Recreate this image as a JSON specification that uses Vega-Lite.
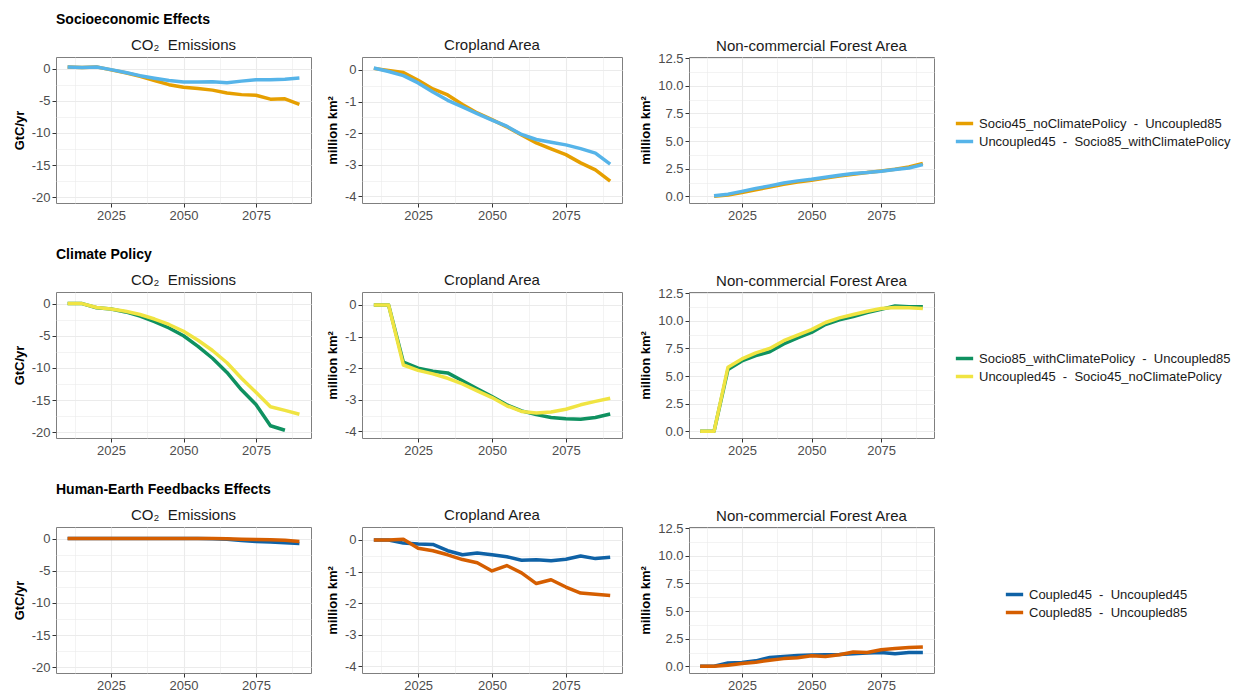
{
  "$schema": "https://vega.github.io/schema/vega-lite/v6.json",
  "background": "white",
  "padding": {"left": 12, "top": 12, "right": 5, "bottom": 0},
  "config": {
    "font": "Liberation Sans",
    "view": {"stroke": "#7f7f7f", "strokeWidth": 1},
    "axis": {"labelFont": "Liberation Sans", "labelFontSize": 13, "labelColor": "#4d4d4d", "titleFont": "Liberation Sans", "titleFontSize": 13, "titleFontWeight": "bold", "titleColor": "#000000", "domain": false, "tickColor": "#333333", "tickSize": 4, "gridColor": "#ebebeb", "labelPadding": 2, "titlePadding": 5},
    "title": {"font": "Liberation Sans", "fontSize": 15, "fontWeight": "normal", "color": "#1a1a1a", "offset": 4},
    "legend": {"labelFont": "Liberation Sans", "labelFontSize": 13, "labelColor": "#1a1a1a", "labelLimit": 400, "symbolType": "stroke", "symbolStrokeWidth": 3.5, "symbolSize": 300, "rowPadding": 0},
    "line": {"strokeWidth": 3.5, "strokeJoin": "round"}
  },
  "datasets": {
    "series": [
      {"s": "A", "name": "Socio45_noClimatePolicy\u00a0 - \u00a0Uncoupled85"},
      {"s": "B", "name": "Uncoupled45\u00a0 - \u00a0Socio85_withClimatePolicy"},
      {"s": "C", "name": "Socio85_withClimatePolicy\u00a0 - \u00a0Uncoupled85"},
      {"s": "D", "name": "Uncoupled45\u00a0 - \u00a0Socio45_noClimatePolicy"},
      {"s": "E", "name": "Coupled45\u00a0 - \u00a0Uncoupled45"},
      {"s": "F", "name": "Coupled85\u00a0 - \u00a0Uncoupled85"}
    ],
    "d": [
      {"p":"c","s":"A","y":2010,"v":0.26},{"p":"c","s":"A","y":2015,"v":0.16},{"p":"c","s":"A","y":2020,"v":0.26},{"p":"c","s":"A","y":2025,"v":-0.2},{"p":"c","s":"A","y":2030,"v":-0.65},{"p":"c","s":"A","y":2035,"v":-1.2},{"p":"c","s":"A","y":2040,"v":-1.85},{"p":"c","s":"A","y":2045,"v":-2.5},{"p":"c","s":"A","y":2050,"v":-2.9},{"p":"c","s":"A","y":2055,"v":-3.1},{"p":"c","s":"A","y":2060,"v":-3.35},{"p":"c","s":"A","y":2065,"v":-3.8},{"p":"c","s":"A","y":2070,"v":-4.05},{"p":"c","s":"A","y":2075,"v":-4.15},{"p":"c","s":"A","y":2080,"v":-4.75},{"p":"c","s":"A","y":2085,"v":-4.7},{"p":"c","s":"A","y":2090,"v":-5.55},
      {"p":"c","s":"B","y":2010,"v":0.26},{"p":"c","s":"B","y":2015,"v":0.16},{"p":"c","s":"B","y":2020,"v":0.26},{"p":"c","s":"B","y":2025,"v":-0.16},{"p":"c","s":"B","y":2030,"v":-0.6},{"p":"c","s":"B","y":2035,"v":-1.1},{"p":"c","s":"B","y":2040,"v":-1.5},{"p":"c","s":"B","y":2045,"v":-1.85},{"p":"c","s":"B","y":2050,"v":-2.1},{"p":"c","s":"B","y":2055,"v":-2.1},{"p":"c","s":"B","y":2060,"v":-2.05},{"p":"c","s":"B","y":2065,"v":-2.2},{"p":"c","s":"B","y":2070,"v":-1.95},{"p":"c","s":"B","y":2075,"v":-1.75},{"p":"c","s":"B","y":2080,"v":-1.75},{"p":"c","s":"B","y":2085,"v":-1.65},{"p":"c","s":"B","y":2090,"v":-1.45},
      {"p":"k","s":"A","y":2010,"v":0.05},{"p":"k","s":"A","y":2015,"v":-0.02},{"p":"k","s":"A","y":2020,"v":-0.08},{"p":"k","s":"A","y":2025,"v":-0.33},{"p":"k","s":"A","y":2030,"v":-0.6},{"p":"k","s":"A","y":2035,"v":-0.79},{"p":"k","s":"A","y":2040,"v":-1.09},{"p":"k","s":"A","y":2045,"v":-1.36},{"p":"k","s":"A","y":2050,"v":-1.57},{"p":"k","s":"A","y":2055,"v":-1.8},{"p":"k","s":"A","y":2060,"v":-2.06},{"p":"k","s":"A","y":2065,"v":-2.31},{"p":"k","s":"A","y":2070,"v":-2.5},{"p":"k","s":"A","y":2075,"v":-2.68},{"p":"k","s":"A","y":2080,"v":-2.94},{"p":"k","s":"A","y":2085,"v":-3.16},{"p":"k","s":"A","y":2090,"v":-3.52},
      {"p":"k","s":"B","y":2010,"v":0.06},{"p":"k","s":"B","y":2015,"v":-0.05},{"p":"k","s":"B","y":2020,"v":-0.18},{"p":"k","s":"B","y":2025,"v":-0.41},{"p":"k","s":"B","y":2030,"v":-0.7},{"p":"k","s":"B","y":2035,"v":-0.96},{"p":"k","s":"B","y":2040,"v":-1.17},{"p":"k","s":"B","y":2045,"v":-1.38},{"p":"k","s":"B","y":2050,"v":-1.59},{"p":"k","s":"B","y":2055,"v":-1.78},{"p":"k","s":"B","y":2060,"v":-2.04},{"p":"k","s":"B","y":2065,"v":-2.2},{"p":"k","s":"B","y":2070,"v":-2.29},{"p":"k","s":"B","y":2075,"v":-2.37},{"p":"k","s":"B","y":2080,"v":-2.49},{"p":"k","s":"B","y":2085,"v":-2.63},{"p":"k","s":"B","y":2090,"v":-2.98},
      {"p":"f","s":"A","y":2015,"v":0.0},{"p":"f","s":"A","y":2020,"v":0.12},{"p":"f","s":"A","y":2025,"v":0.35},{"p":"f","s":"A","y":2030,"v":0.6},{"p":"f","s":"A","y":2035,"v":0.85},{"p":"f","s":"A","y":2040,"v":1.1},{"p":"f","s":"A","y":2045,"v":1.3},{"p":"f","s":"A","y":2050,"v":1.45},{"p":"f","s":"A","y":2055,"v":1.65},{"p":"f","s":"A","y":2060,"v":1.85},{"p":"f","s":"A","y":2065,"v":2.0},{"p":"f","s":"A","y":2070,"v":2.15},{"p":"f","s":"A","y":2075,"v":2.3},{"p":"f","s":"A","y":2080,"v":2.45},{"p":"f","s":"A","y":2085,"v":2.65},{"p":"f","s":"A","y":2090,"v":2.98},
      {"p":"f","s":"B","y":2015,"v":0.06},{"p":"f","s":"B","y":2020,"v":0.2},{"p":"f","s":"B","y":2025,"v":0.45},{"p":"f","s":"B","y":2030,"v":0.72},{"p":"f","s":"B","y":2035,"v":0.95},{"p":"f","s":"B","y":2040,"v":1.2},{"p":"f","s":"B","y":2045,"v":1.4},{"p":"f","s":"B","y":2050,"v":1.55},{"p":"f","s":"B","y":2055,"v":1.73},{"p":"f","s":"B","y":2060,"v":1.9},{"p":"f","s":"B","y":2065,"v":2.06},{"p":"f","s":"B","y":2070,"v":2.15},{"p":"f","s":"B","y":2075,"v":2.27},{"p":"f","s":"B","y":2080,"v":2.42},{"p":"f","s":"B","y":2085,"v":2.57},{"p":"f","s":"B","y":2090,"v":2.87},
      {"p":"c","s":"C","y":2010,"v":0},{"p":"c","s":"C","y":2015,"v":0},{"p":"c","s":"C","y":2020,"v":-0.65},{"p":"c","s":"C","y":2025,"v":-0.85},{"p":"c","s":"C","y":2030,"v":-1.3},{"p":"c","s":"C","y":2035,"v":-1.95},{"p":"c","s":"C","y":2040,"v":-2.8},{"p":"c","s":"C","y":2045,"v":-3.8},{"p":"c","s":"C","y":2050,"v":-5.0},{"p":"c","s":"C","y":2055,"v":-6.65},{"p":"c","s":"C","y":2060,"v":-8.5},{"p":"c","s":"C","y":2065,"v":-10.7},{"p":"c","s":"C","y":2070,"v":-13.4},{"p":"c","s":"C","y":2075,"v":-15.7},{"p":"c","s":"C","y":2080,"v":-19.0},{"p":"c","s":"C","y":2085,"v":-19.7},
      {"p":"c","s":"D","y":2010,"v":0},{"p":"c","s":"D","y":2015,"v":0},{"p":"c","s":"D","y":2020,"v":-0.6},{"p":"c","s":"D","y":2025,"v":-0.85},{"p":"c","s":"D","y":2030,"v":-1.2},{"p":"c","s":"D","y":2035,"v":-1.7},{"p":"c","s":"D","y":2040,"v":-2.4},{"p":"c","s":"D","y":2045,"v":-3.25},{"p":"c","s":"D","y":2050,"v":-4.3},{"p":"c","s":"D","y":2055,"v":-5.7},{"p":"c","s":"D","y":2060,"v":-7.3},{"p":"c","s":"D","y":2065,"v":-9.2},{"p":"c","s":"D","y":2070,"v":-11.6},{"p":"c","s":"D","y":2075,"v":-13.8},{"p":"c","s":"D","y":2080,"v":-16.05},{"p":"c","s":"D","y":2085,"v":-16.6},{"p":"c","s":"D","y":2090,"v":-17.2},
      {"p":"k","s":"C","y":2010,"v":0},{"p":"k","s":"C","y":2015,"v":0},{"p":"k","s":"C","y":2020,"v":-1.81},{"p":"k","s":"C","y":2025,"v":-2.0},{"p":"k","s":"C","y":2030,"v":-2.1},{"p":"k","s":"C","y":2035,"v":-2.15},{"p":"k","s":"C","y":2040,"v":-2.4},{"p":"k","s":"C","y":2045,"v":-2.65},{"p":"k","s":"C","y":2050,"v":-2.9},{"p":"k","s":"C","y":2055,"v":-3.16},{"p":"k","s":"C","y":2060,"v":-3.35},{"p":"k","s":"C","y":2065,"v":-3.47},{"p":"k","s":"C","y":2070,"v":-3.56},{"p":"k","s":"C","y":2075,"v":-3.6},{"p":"k","s":"C","y":2080,"v":-3.62},{"p":"k","s":"C","y":2085,"v":-3.56},{"p":"k","s":"C","y":2090,"v":-3.45},
      {"p":"k","s":"D","y":2010,"v":0},{"p":"k","s":"D","y":2015,"v":0},{"p":"k","s":"D","y":2020,"v":-1.9},{"p":"k","s":"D","y":2025,"v":-2.07},{"p":"k","s":"D","y":2030,"v":-2.18},{"p":"k","s":"D","y":2035,"v":-2.32},{"p":"k","s":"D","y":2040,"v":-2.5},{"p":"k","s":"D","y":2045,"v":-2.72},{"p":"k","s":"D","y":2050,"v":-2.93},{"p":"k","s":"D","y":2055,"v":-3.19},{"p":"k","s":"D","y":2060,"v":-3.37},{"p":"k","s":"D","y":2065,"v":-3.42},{"p":"k","s":"D","y":2070,"v":-3.39},{"p":"k","s":"D","y":2075,"v":-3.3},{"p":"k","s":"D","y":2080,"v":-3.16},{"p":"k","s":"D","y":2085,"v":-3.05},{"p":"k","s":"D","y":2090,"v":-2.95},
      {"p":"f","s":"C","y":2010,"v":0},{"p":"f","s":"C","y":2015,"v":0},{"p":"f","s":"C","y":2020,"v":5.6},{"p":"f","s":"C","y":2025,"v":6.37},{"p":"f","s":"C","y":2030,"v":6.85},{"p":"f","s":"C","y":2035,"v":7.2},{"p":"f","s":"C","y":2040,"v":7.9},{"p":"f","s":"C","y":2045,"v":8.46},{"p":"f","s":"C","y":2050,"v":8.94},{"p":"f","s":"C","y":2055,"v":9.66},{"p":"f","s":"C","y":2060,"v":10.08},{"p":"f","s":"C","y":2065,"v":10.38},{"p":"f","s":"C","y":2070,"v":10.74},{"p":"f","s":"C","y":2075,"v":11.03},{"p":"f","s":"C","y":2080,"v":11.33},{"p":"f","s":"C","y":2085,"v":11.27},{"p":"f","s":"C","y":2090,"v":11.27},
      {"p":"f","s":"D","y":2010,"v":0},{"p":"f","s":"D","y":2015,"v":0},{"p":"f","s":"D","y":2020,"v":5.8},{"p":"f","s":"D","y":2025,"v":6.55},{"p":"f","s":"D","y":2030,"v":7.1},{"p":"f","s":"D","y":2035,"v":7.5},{"p":"f","s":"D","y":2040,"v":8.2},{"p":"f","s":"D","y":2045,"v":8.7},{"p":"f","s":"D","y":2050,"v":9.2},{"p":"f","s":"D","y":2055,"v":9.84},{"p":"f","s":"D","y":2060,"v":10.26},{"p":"f","s":"D","y":2065,"v":10.56},{"p":"f","s":"D","y":2070,"v":10.86},{"p":"f","s":"D","y":2075,"v":11.1},{"p":"f","s":"D","y":2080,"v":11.2},{"p":"f","s":"D","y":2085,"v":11.18},{"p":"f","s":"D","y":2090,"v":11.1},
      {"p":"c","s":"E","y":2010,"v":0},{"p":"c","s":"E","y":2015,"v":0},{"p":"c","s":"E","y":2020,"v":0},{"p":"c","s":"E","y":2025,"v":0},{"p":"c","s":"E","y":2030,"v":0},{"p":"c","s":"E","y":2035,"v":0},{"p":"c","s":"E","y":2040,"v":0},{"p":"c","s":"E","y":2045,"v":0},{"p":"c","s":"E","y":2050,"v":0},{"p":"c","s":"E","y":2055,"v":0},{"p":"c","s":"E","y":2060,"v":-0.02},{"p":"c","s":"E","y":2065,"v":-0.1},{"p":"c","s":"E","y":2070,"v":-0.3},{"p":"c","s":"E","y":2075,"v":-0.45},{"p":"c","s":"E","y":2080,"v":-0.55},{"p":"c","s":"E","y":2085,"v":-0.65},{"p":"c","s":"E","y":2090,"v":-0.75},
      {"p":"c","s":"F","y":2010,"v":0},{"p":"c","s":"F","y":2015,"v":0},{"p":"c","s":"F","y":2020,"v":0},{"p":"c","s":"F","y":2025,"v":0},{"p":"c","s":"F","y":2030,"v":0},{"p":"c","s":"F","y":2035,"v":0},{"p":"c","s":"F","y":2040,"v":0},{"p":"c","s":"F","y":2045,"v":0},{"p":"c","s":"F","y":2050,"v":0},{"p":"c","s":"F","y":2055,"v":0},{"p":"c","s":"F","y":2060,"v":0},{"p":"c","s":"F","y":2065,"v":-0.02},{"p":"c","s":"F","y":2070,"v":-0.1},{"p":"c","s":"F","y":2075,"v":-0.15},{"p":"c","s":"F","y":2080,"v":-0.2},{"p":"c","s":"F","y":2085,"v":-0.25},{"p":"c","s":"F","y":2090,"v":-0.45},
      {"p":"k","s":"E","y":2010,"v":0},{"p":"k","s":"E","y":2015,"v":0},{"p":"k","s":"E","y":2020,"v":-0.1},{"p":"k","s":"E","y":2025,"v":-0.13},{"p":"k","s":"E","y":2030,"v":-0.14},{"p":"k","s":"E","y":2035,"v":-0.34},{"p":"k","s":"E","y":2040,"v":-0.47},{"p":"k","s":"E","y":2045,"v":-0.41},{"p":"k","s":"E","y":2050,"v":-0.47},{"p":"k","s":"E","y":2055,"v":-0.53},{"p":"k","s":"E","y":2060,"v":-0.64},{"p":"k","s":"E","y":2065,"v":-0.63},{"p":"k","s":"E","y":2070,"v":-0.66},{"p":"k","s":"E","y":2075,"v":-0.61},{"p":"k","s":"E","y":2080,"v":-0.51},{"p":"k","s":"E","y":2085,"v":-0.59},{"p":"k","s":"E","y":2090,"v":-0.55},
      {"p":"k","s":"F","y":2010,"v":0},{"p":"k","s":"F","y":2015,"v":0},{"p":"k","s":"F","y":2020,"v":0.02},{"p":"k","s":"F","y":2025,"v":-0.26},{"p":"k","s":"F","y":2030,"v":-0.34},{"p":"k","s":"F","y":2035,"v":-0.47},{"p":"k","s":"F","y":2040,"v":-0.62},{"p":"k","s":"F","y":2045,"v":-0.72},{"p":"k","s":"F","y":2050,"v":-0.98},{"p":"k","s":"F","y":2055,"v":-0.81},{"p":"k","s":"F","y":2060,"v":-1.04},{"p":"k","s":"F","y":2065,"v":-1.38},{"p":"k","s":"F","y":2070,"v":-1.26},{"p":"k","s":"F","y":2075,"v":-1.49},{"p":"k","s":"F","y":2080,"v":-1.68},{"p":"k","s":"F","y":2085,"v":-1.72},{"p":"k","s":"F","y":2090,"v":-1.76},
      {"p":"f","s":"E","y":2010,"v":0},{"p":"f","s":"E","y":2015,"v":0.02},{"p":"f","s":"E","y":2020,"v":0.3},{"p":"f","s":"E","y":2025,"v":0.35},{"p":"f","s":"E","y":2030,"v":0.5},{"p":"f","s":"E","y":2035,"v":0.8},{"p":"f","s":"E","y":2040,"v":0.9},{"p":"f","s":"E","y":2045,"v":0.98},{"p":"f","s":"E","y":2050,"v":1.02},{"p":"f","s":"E","y":2055,"v":1.05},{"p":"f","s":"E","y":2060,"v":1.08},{"p":"f","s":"E","y":2065,"v":1.15},{"p":"f","s":"E","y":2070,"v":1.2},{"p":"f","s":"E","y":2075,"v":1.25},{"p":"f","s":"E","y":2080,"v":1.15},{"p":"f","s":"E","y":2085,"v":1.25},{"p":"f","s":"E","y":2090,"v":1.25},
      {"p":"f","s":"F","y":2010,"v":0},{"p":"f","s":"F","y":2015,"v":0},{"p":"f","s":"F","y":2020,"v":0.1},{"p":"f","s":"F","y":2025,"v":0.25},{"p":"f","s":"F","y":2030,"v":0.38},{"p":"f","s":"F","y":2035,"v":0.55},{"p":"f","s":"F","y":2040,"v":0.7},{"p":"f","s":"F","y":2045,"v":0.78},{"p":"f","s":"F","y":2050,"v":0.95},{"p":"f","s":"F","y":2055,"v":0.9},{"p":"f","s":"F","y":2060,"v":1.05},{"p":"f","s":"F","y":2065,"v":1.3},{"p":"f","s":"F","y":2070,"v":1.25},{"p":"f","s":"F","y":2075,"v":1.5},{"p":"f","s":"F","y":2080,"v":1.62},{"p":"f","s":"F","y":2085,"v":1.7},{"p":"f","s":"F","y":2090,"v":1.75}
    ]
  },
  "data": {"name": "d"},
  "transform": [{"lookup": "s", "from": {"data": {"name": "series"}, "key": "s", "fields": ["name"]}}],
  "vconcat": [
    {
      "title": {"text": "Socioeconomic Effects", "anchor": "start", "frame": "group", "fontSize": 14, "fontWeight": "bold", "color": "#000000", "offset": 11},
      "spacing": 51, "bounds": "flush",
      "resolve": {"scale": {"color": "shared"}},
      "hconcat": [
        {"width": 255, "height": 146, "title": "CO₂\u00a0 Emissions",
         "transform": [{"filter": "datum.p == 'c'"}, {"filter": {"field": "s", "oneOf": ["A", "B"]}}],
         "mark": {"type": "line"},
         "encoding": {
           "x": {"field": "y", "type": "quantitative", "title": null, "scale": {"domain": [2006, 2094], "nice": false, "zero": false}, "axis": {"format": "d", "values": [2012.5, 2025, 2037.5, 2050, 2062.5, 2075, 2087.5], "labelExpr": "datum.value % 25 == 0 ? datum.label : ''", "gridWidth": {"condition": {"test": "datum.value % 25 != 0", "value": 0.6}, "value": 1.1}, "tickOpacity": {"condition": {"test": "datum.value % 25 != 0", "value": 0}, "value": 1}}},
           "y": {"field": "v", "type": "quantitative", "title": "GtC/yr", "scale": {"domain": [-20.9, 1.8], "nice": false, "zero": false}, "axis": {"values": [-20, -17.5, -15, -12.5, -10, -7.5, -5, -2.5, 0], "labelExpr": "datum.value % 5 == 0 ? '' + datum.value : ''", "gridWidth": {"condition": {"test": "datum.value % 5 != 0", "value": 0.6}, "value": 1.1}, "tickOpacity": {"condition": {"test": "datum.value % 5 != 0", "value": 0}, "value": 1}}},
           "color": {"field": "name", "type": "nominal", "scale": {"range": ["#E69F00", "#56B4E9"]}, "legend": {"title": null, "orient": "none", "legendX": 898, "legendY": 56}}
         }},
        {"hconcat": [
          {"width": 260, "height": 146, "title": "Cropland Area",
           "transform": [{"filter": "datum.p == 'k'"}, {"filter": {"field": "s", "oneOf": ["A", "B"]}}],
           "mark": {"type": "line"},
           "encoding": {
             "x": {"field": "y", "type": "quantitative", "title": null, "scale": {"domain": [2006, 2094], "nice": false, "zero": false}, "axis": {"format": "d", "values": [2012.5, 2025, 2037.5, 2050, 2062.5, 2075, 2087.5], "labelExpr": "datum.value % 25 == 0 ? datum.label : ''", "gridWidth": {"condition": {"test": "datum.value % 25 != 0", "value": 0.6}, "value": 1.1}, "tickOpacity": {"condition": {"test": "datum.value % 25 != 0", "value": 0}, "value": 1}}},
             "y": {"field": "v", "type": "quantitative", "title": "million km²", "scale": {"domain": [-4.21, 0.41], "nice": false, "zero": false}, "axis": {"values": [-4, -3.5, -3, -2.5, -2, -1.5, -1, -0.5, 0], "labelExpr": "datum.value % 1 == 0 ? '' + datum.value : ''", "gridWidth": {"condition": {"test": "datum.value % 1 != 0", "value": 0.6}, "value": 1.1}, "tickOpacity": {"condition": {"test": "datum.value % 1 != 0", "value": 0}, "value": 1}}},
             "color": {"field": "name", "type": "nominal", "scale": {"range": ["#E69F00", "#56B4E9"]}, "legend": {"title": null, "orient": "none", "legendX": 898, "legendY": 56}}
           }},
          {"width": 245, "height": 146, "title": {"text": "Non-commercial Forest Area", "offset": -2},
           "transform": [{"filter": "datum.p == 'f'"}, {"filter": {"field": "s", "oneOf": ["A", "B"]}}],
           "mark": {"type": "line"},
           "encoding": {
             "x": {"field": "y", "type": "quantitative", "title": null, "scale": {"domain": [2006, 2094], "nice": false, "zero": false}, "axis": {"format": "d", "values": [2012.5, 2025, 2037.5, 2050, 2062.5, 2075, 2087.5], "labelExpr": "datum.value % 25 == 0 ? datum.label : ''", "gridWidth": {"condition": {"test": "datum.value % 25 != 0", "value": 0.6}, "value": 1.1}, "tickOpacity": {"condition": {"test": "datum.value % 25 != 0", "value": 0}, "value": 1}}},
             "y": {"field": "v", "type": "quantitative", "title": "million km²", "scale": {"domain": [-0.6, 12.6], "nice": false, "zero": false}, "axis": {"values": [0, 1.25, 2.5, 3.75, 5, 6.25, 7.5, 8.75, 10, 11.25, 12.5], "labelExpr": "datum.value % 2.5 == 0 ? format(datum.value, '.1f') : ''", "gridWidth": {"condition": {"test": "datum.value % 2.5 != 0", "value": 0.6}, "value": 1.1}, "tickOpacity": {"condition": {"test": "datum.value % 2.5 != 0", "value": 0}, "value": 1}}},
             "color": {"field": "name", "type": "nominal", "scale": {"range": ["#E69F00", "#56B4E9"]}, "legend": {"title": null, "orient": "none", "legendX": 898, "legendY": 56}}
           }}
        ], "spacing": 67, "bounds": "flush"}
      ]
    },
    {
      "title": {"text": "Climate Policy", "anchor": "start", "frame": "group", "fontSize": 14, "fontWeight": "bold", "color": "#000000", "offset": 11},
      "spacing": 51, "bounds": "flush",
      "resolve": {"scale": {"color": "shared"}},
      "hconcat": [
        {"width": 255, "height": 146, "title": "CO₂\u00a0 Emissions",
         "transform": [{"filter": "datum.p == 'c'"}, {"filter": {"field": "s", "oneOf": ["C", "D"]}}],
         "mark": {"type": "line"},
         "encoding": {
           "x": {"field": "y", "type": "quantitative", "title": null, "scale": {"domain": [2006, 2094], "nice": false, "zero": false}, "axis": {"format": "d", "values": [2012.5, 2025, 2037.5, 2050, 2062.5, 2075, 2087.5], "labelExpr": "datum.value % 25 == 0 ? datum.label : ''", "gridWidth": {"condition": {"test": "datum.value % 25 != 0", "value": 0.6}, "value": 1.1}, "tickOpacity": {"condition": {"test": "datum.value % 25 != 0", "value": 0}, "value": 1}}},
           "y": {"field": "v", "type": "quantitative", "title": "GtC/yr", "scale": {"domain": [-20.9, 1.8], "nice": false, "zero": false}, "axis": {"values": [-20, -17.5, -15, -12.5, -10, -7.5, -5, -2.5, 0], "labelExpr": "datum.value % 5 == 0 ? '' + datum.value : ''", "gridWidth": {"condition": {"test": "datum.value % 5 != 0", "value": 0.6}, "value": 1.1}, "tickOpacity": {"condition": {"test": "datum.value % 5 != 0", "value": 0}, "value": 1}}},
           "color": {"field": "name", "type": "nominal", "scale": {"range": ["#0F9160", "#F0E442"]}, "legend": {"title": null, "orient": "none", "legendX": 898, "legendY": 56}}
         }},
        {"hconcat": [
          {"width": 260, "height": 146, "title": "Cropland Area",
           "transform": [{"filter": "datum.p == 'k'"}, {"filter": {"field": "s", "oneOf": ["C", "D"]}}],
           "mark": {"type": "line"},
           "encoding": {
             "x": {"field": "y", "type": "quantitative", "title": null, "scale": {"domain": [2006, 2094], "nice": false, "zero": false}, "axis": {"format": "d", "values": [2012.5, 2025, 2037.5, 2050, 2062.5, 2075, 2087.5], "labelExpr": "datum.value % 25 == 0 ? datum.label : ''", "gridWidth": {"condition": {"test": "datum.value % 25 != 0", "value": 0.6}, "value": 1.1}, "tickOpacity": {"condition": {"test": "datum.value % 25 != 0", "value": 0}, "value": 1}}},
             "y": {"field": "v", "type": "quantitative", "title": "million km²", "scale": {"domain": [-4.21, 0.41], "nice": false, "zero": false}, "axis": {"values": [-4, -3.5, -3, -2.5, -2, -1.5, -1, -0.5, 0], "labelExpr": "datum.value % 1 == 0 ? '' + datum.value : ''", "gridWidth": {"condition": {"test": "datum.value % 1 != 0", "value": 0.6}, "value": 1.1}, "tickOpacity": {"condition": {"test": "datum.value % 1 != 0", "value": 0}, "value": 1}}},
             "color": {"field": "name", "type": "nominal", "scale": {"range": ["#0F9160", "#F0E442"]}, "legend": {"title": null, "orient": "none", "legendX": 898, "legendY": 56}}
           }},
          {"width": 245, "height": 146, "title": {"text": "Non-commercial Forest Area", "offset": -2},
           "transform": [{"filter": "datum.p == 'f'"}, {"filter": {"field": "s", "oneOf": ["C", "D"]}}],
           "mark": {"type": "line"},
           "encoding": {
             "x": {"field": "y", "type": "quantitative", "title": null, "scale": {"domain": [2006, 2094], "nice": false, "zero": false}, "axis": {"format": "d", "values": [2012.5, 2025, 2037.5, 2050, 2062.5, 2075, 2087.5], "labelExpr": "datum.value % 25 == 0 ? datum.label : ''", "gridWidth": {"condition": {"test": "datum.value % 25 != 0", "value": 0.6}, "value": 1.1}, "tickOpacity": {"condition": {"test": "datum.value % 25 != 0", "value": 0}, "value": 1}}},
             "y": {"field": "v", "type": "quantitative", "title": "million km²", "scale": {"domain": [-0.6, 12.6], "nice": false, "zero": false}, "axis": {"values": [0, 1.25, 2.5, 3.75, 5, 6.25, 7.5, 8.75, 10, 11.25, 12.5], "labelExpr": "datum.value % 2.5 == 0 ? format(datum.value, '.1f') : ''", "gridWidth": {"condition": {"test": "datum.value % 2.5 != 0", "value": 0.6}, "value": 1.1}, "tickOpacity": {"condition": {"test": "datum.value % 2.5 != 0", "value": 0}, "value": 1}}},
             "color": {"field": "name", "type": "nominal", "scale": {"range": ["#0F9160", "#F0E442"]}, "legend": {"title": null, "orient": "none", "legendX": 898, "legendY": 56}}
           }}
        ], "spacing": 67, "bounds": "flush"}
      ]
    },
    {
      "title": {"text": "Human-Earth Feedbacks Effects", "anchor": "start", "frame": "group", "fontSize": 14, "fontWeight": "bold", "color": "#000000", "offset": 11},
      "spacing": 51, "bounds": "flush",
      "resolve": {"scale": {"color": "shared"}},
      "hconcat": [
        {"width": 255, "height": 146, "title": "CO₂\u00a0 Emissions",
         "transform": [{"filter": "datum.p == 'c'"}, {"filter": {"field": "s", "oneOf": ["E", "F"]}}],
         "mark": {"type": "line"},
         "encoding": {
           "x": {"field": "y", "type": "quantitative", "title": null, "scale": {"domain": [2006, 2094], "nice": false, "zero": false}, "axis": {"format": "d", "values": [2012.5, 2025, 2037.5, 2050, 2062.5, 2075, 2087.5], "labelExpr": "datum.value % 25 == 0 ? datum.label : ''", "gridWidth": {"condition": {"test": "datum.value % 25 != 0", "value": 0.6}, "value": 1.1}, "tickOpacity": {"condition": {"test": "datum.value % 25 != 0", "value": 0}, "value": 1}}},
           "y": {"field": "v", "type": "quantitative", "title": "GtC/yr", "scale": {"domain": [-20.9, 1.8], "nice": false, "zero": false}, "axis": {"values": [-20, -17.5, -15, -12.5, -10, -7.5, -5, -2.5, 0], "labelExpr": "datum.value % 5 == 0 ? '' + datum.value : ''", "gridWidth": {"condition": {"test": "datum.value % 5 != 0", "value": 0.6}, "value": 1.1}, "tickOpacity": {"condition": {"test": "datum.value % 5 != 0", "value": 0}, "value": 1}}},
           "color": {"field": "name", "type": "nominal", "scale": {"range": ["#0F62A6", "#D55E00"]}, "legend": {"title": null, "orient": "none", "legendX": 948, "legendY": 57}}
         }},
        {"hconcat": [
          {"width": 260, "height": 146, "title": "Cropland Area",
           "transform": [{"filter": "datum.p == 'k'"}, {"filter": {"field": "s", "oneOf": ["E", "F"]}}],
           "mark": {"type": "line"},
           "encoding": {
             "x": {"field": "y", "type": "quantitative", "title": null, "scale": {"domain": [2006, 2094], "nice": false, "zero": false}, "axis": {"format": "d", "values": [2012.5, 2025, 2037.5, 2050, 2062.5, 2075, 2087.5], "labelExpr": "datum.value % 25 == 0 ? datum.label : ''", "gridWidth": {"condition": {"test": "datum.value % 25 != 0", "value": 0.6}, "value": 1.1}, "tickOpacity": {"condition": {"test": "datum.value % 25 != 0", "value": 0}, "value": 1}}},
             "y": {"field": "v", "type": "quantitative", "title": "million km²", "scale": {"domain": [-4.21, 0.41], "nice": false, "zero": false}, "axis": {"values": [-4, -3.5, -3, -2.5, -2, -1.5, -1, -0.5, 0], "labelExpr": "datum.value % 1 == 0 ? '' + datum.value : ''", "gridWidth": {"condition": {"test": "datum.value % 1 != 0", "value": 0.6}, "value": 1.1}, "tickOpacity": {"condition": {"test": "datum.value % 1 != 0", "value": 0}, "value": 1}}},
             "color": {"field": "name", "type": "nominal", "scale": {"range": ["#0F62A6", "#D55E00"]}, "legend": {"title": null, "orient": "none", "legendX": 948, "legendY": 57}}
           }},
          {"width": 245, "height": 146, "title": {"text": "Non-commercial Forest Area", "offset": -2},
           "transform": [{"filter": "datum.p == 'f'"}, {"filter": {"field": "s", "oneOf": ["E", "F"]}}],
           "mark": {"type": "line"},
           "encoding": {
             "x": {"field": "y", "type": "quantitative", "title": null, "scale": {"domain": [2006, 2094], "nice": false, "zero": false}, "axis": {"format": "d", "values": [2012.5, 2025, 2037.5, 2050, 2062.5, 2075, 2087.5], "labelExpr": "datum.value % 25 == 0 ? datum.label : ''", "gridWidth": {"condition": {"test": "datum.value % 25 != 0", "value": 0.6}, "value": 1.1}, "tickOpacity": {"condition": {"test": "datum.value % 25 != 0", "value": 0}, "value": 1}}},
             "y": {"field": "v", "type": "quantitative", "title": "million km²", "scale": {"domain": [-0.6, 12.6], "nice": false, "zero": false}, "axis": {"values": [0, 1.25, 2.5, 3.75, 5, 6.25, 7.5, 8.75, 10, 11.25, 12.5], "labelExpr": "datum.value % 2.5 == 0 ? format(datum.value, '.1f') : ''", "gridWidth": {"condition": {"test": "datum.value % 2.5 != 0", "value": 0.6}, "value": 1.1}, "tickOpacity": {"condition": {"test": "datum.value % 2.5 != 0", "value": 0}, "value": 1}}},
             "color": {"field": "name", "type": "nominal", "scale": {"range": ["#0F62A6", "#D55E00"]}, "legend": {"title": null, "orient": "none", "legendX": 948, "legendY": 57}}
           }}
        ], "spacing": 67, "bounds": "flush"}
      ]
    }
  ],
  "spacing": 235,
  "bounds": "flush",
  "resolve": {"scale": {"color": "independent"}, "legend": {"color": "independent"}}
}
